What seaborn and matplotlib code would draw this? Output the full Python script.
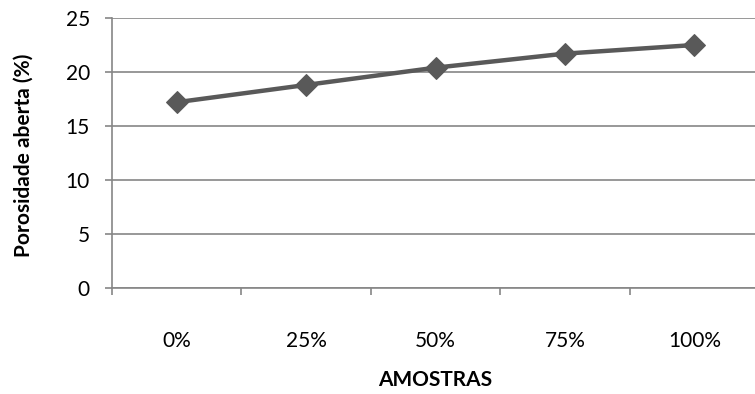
import matplotlib
matplotlib.use("Agg")
import matplotlib.pyplot as plt
import seaborn as sns
import pandas as pd

# Open porosity by sample composition
amostras = ["0%", "25%", "50%", "75%", "100%"]
porosidade = [17.2, 18.8, 20.4, 21.7, 22.5]

sns.set_theme(style="white")
plt.rcParams["font.family"] = ["Lato", "DejaVu Sans"]

df = pd.DataFrame({"pos": range(len(amostras)), "porosidade": porosidade})

fig = plt.figure(figsize=(7.55, 3.94), dpi=100)
ax = fig.add_axes([112 / 755, 1 - 288 / 394, 647 / 755, 270 / 394])

grid_col = "#868686"
line_col = "#595959"
fs = 15

sns.lineplot(data=df, x="pos", y="porosidade", ax=ax, color=line_col,
             linewidth=3.2, marker="D", markersize=11,
             markeredgecolor=line_col, markerfacecolor=line_col)

ax.set_ylim(0, 25)
ax.set_yticks([0, 5, 10, 15, 20, 25])
ax.set_xlim(-0.5, len(amostras) - 0.5)

# category labels centred, tick marks between categories
ax.set_xticks(range(len(amostras)))
ax.set_xticklabels(amostras)
ax.set_xticks([i - 0.5 for i in range(len(amostras) + 1)], minor=True)
ax.tick_params(axis="x", which="major", length=0, pad=31, labelsize=fs,
               labelcolor="#000000")
ax.tick_params(axis="x", which="minor", length=5, width=1.2, color=grid_col,
               direction="out", bottom=True)
ax.tick_params(axis="y", length=5, width=1.2, color=grid_col, pad=11,
               labelsize=fs, labelcolor="#000000", left=True)

ax.grid(axis="y", color=grid_col, linewidth=1.2)
ax.grid(axis="x", visible=False)
ax.set_axisbelow(True)

for side in ("top", "right"):
    ax.spines[side].set_visible(False)
for side in ("left", "bottom"):
    ax.spines[side].set_color(grid_col)
    ax.spines[side].set_linewidth(1.2)

ax.set_xlabel("AMOSTRAS", fontsize=fs, fontweight="bold", color="#000000")
ax.xaxis.set_label_coords(0.5, -0.34)
ax.xaxis.label.set_verticalalignment("center")
ax.set_ylabel("Porosidade aberta (%)", fontsize=fs, fontweight="bold",
              color="#000000")
ax.yaxis.set_label_coords(-0.136, 0.49)
ax.yaxis.label.set_verticalalignment("center")

fig.savefig("out.png", dpi=100)
